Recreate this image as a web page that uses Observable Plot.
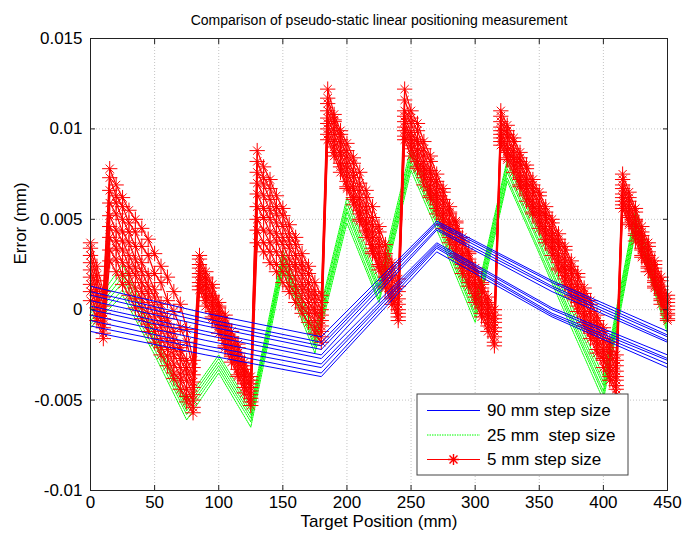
<!DOCTYPE html>
<html><head><meta charset="utf-8">
<script src="https://cdn.jsdelivr.net/npm/d3@7"></script>
<script src="https://cdn.jsdelivr.net/npm/@observablehq/plot@0.6"></script>
<style>
body{margin:0;background:#fff;}
#chart{position:relative;width:683px;height:541px;}
</style></head><body><div id="chart"></div>
<script>
const title = "Comparison of pseudo-static linear positioning measurement";
const xLabel = "Target Position (mm)";
const yLabel = "Error (mm)";
const xTicks = [0, 50, 100, 150, 200, 250, 300, 350, 400, 450];
const yTicks = [-0.01, -0.005, 0, 0.005, 0.01, 0.015];
const yTickLabels = ["-0.01", "-0.005", "0", "0.005", "0.01", "0.015"];
const seriesNames = ["90 mm step size", "25 mm  step size", "5 mm step size"];

// 90 mm step size runs
const blueX = [0, 90, 180, 270, 360, 450];
const blueRuns = [
  [0.0013, -0.0002, -0.0015, 0.0049, 0.0016, -0.0012],
  [0.0010, -0.0005, -0.0018, 0.0048, 0.0015, -0.0014],
  [0.0008, -0.0007, -0.0020, 0.0047, 0.0013, -0.0015],
  [0.0005, -0.0009, -0.0022, 0.0045, 0.0012, -0.0017],
  [0.0002, -0.0012, -0.0025, 0.0044, 0.0010, -0.0018],
  [0.0000, -0.0014, -0.0027, 0.0037, 0.0001, -0.0025],
  [-0.0003, -0.0017, -0.0030, 0.0036, 0.0000, -0.0027],
  [-0.0006, -0.0020, -0.0032, 0.0035, -0.0002, -0.0028],
  [-0.0009, -0.0022, -0.0035, 0.0034, -0.0003, -0.0030],
  [-0.0012, -0.0025, -0.0037, 0.0032, -0.0004, -0.0032]
];

// 25 mm step size runs
const greenX = [0, 25, 50, 75, 100, 125, 150, 175, 200, 225, 250, 275, 300, 325, 350, 375, 400, 425, 450];
const greenRuns = [
  [0.0000, 0.0025, -0.0012, -0.0050, -0.0025, -0.0054, 0.0033, -0.0012, 0.0062, 0.0016, 0.0090, 0.0048, 0.0005, 0.0083, 0.0043, 0.0003, -0.0037, 0.0055, -0.0003],
  [-0.0002, 0.0021, -0.0015, -0.0052, -0.0027, -0.0056, 0.0030, -0.0014, 0.0059, 0.0013, 0.0087, 0.0045, 0.0003, 0.0081, 0.0041, 0.0000, -0.0040, 0.0053, -0.0005],
  [-0.0004, 0.0018, -0.0017, -0.0054, -0.0029, -0.0058, 0.0028, -0.0017, 0.0056, 0.0011, 0.0085, 0.0043, 0.0001, 0.0078, 0.0038, -0.0003, -0.0042, 0.0050, -0.0007],
  [-0.0006, 0.0015, -0.0019, -0.0056, -0.0031, -0.0060, 0.0026, -0.0019, 0.0054, 0.0009, 0.0082, 0.0041, -0.0002, 0.0076, 0.0036, -0.0005, -0.0045, 0.0048, -0.0009],
  [-0.0008, 0.0011, -0.0022, -0.0058, -0.0033, -0.0062, 0.0024, -0.0021, 0.0051, 0.0006, 0.0080, 0.0039, -0.0004, 0.0073, 0.0033, -0.0007, -0.0047, 0.0045, -0.0011],
  [-0.0010, 0.0008, -0.0025, -0.0061, -0.0035, -0.0065, 0.0021, -0.0024, 0.0048, 0.0004, 0.0077, 0.0036, -0.0007, 0.0071, 0.0031, -0.0010, -0.0050, 0.0043, -0.0013]
];

// 5 mm step size runs
const redX = [0, 5, 10, 15, 20, 25, 30, 35, 40, 45, 50, 55, 60, 65, 70, 75, 80, 85, 90, 95,
  100, 105, 110, 115, 120, 125, 130, 135, 140, 145, 150, 155, 160, 165, 170, 175, 180, 185, 190, 195,
  200, 205, 210, 215, 220, 225, 230, 235, 240, 245, 250, 255, 260, 265, 270, 275, 280, 285, 290, 295,
  300, 305, 310, 315, 320, 325, 330, 335, 340, 345, 350, 355, 360, 365, 370, 375, 380, 385, 390, 395,
  400, 405, 410, 415, 420, 425, 430, 435, 440, 445, 450];
const redRuns = [
  [0.0037, 0.0024, 0.0010,
   0.0078, 0.0069, 0.0062, 0.0055, 0.0050, 0.0045, 0.0039, 0.0031, 0.0024, 0.0018, 0.0010, 0.0003, -0.0011, -0.0028,
   0.0030, 0.0021, 0.0014, 0.0004, -0.0003, -0.0012, -0.0019, -0.0029, -0.0037,
   0.0088, 0.0079, 0.0072, 0.0063, 0.0056, 0.0047, 0.0040, 0.0031, 0.0024, 0.0015, 0.0008,
   0.0122, 0.0108, 0.0099, 0.0092, 0.0084, 0.0076, 0.0066, 0.0057, 0.0046, 0.0036, 0.0026, 0.0017,
   0.0122, 0.0110, 0.0103, 0.0093, 0.0085, 0.0075, 0.0067, 0.0057, 0.0049, 0.0040, 0.0032, 0.0023, 0.0015, 0.0007, 0.0000,
   0.0110, 0.0102, 0.0095, 0.0087, 0.0080, 0.0072, 0.0065, 0.0057, 0.0050, 0.0042, 0.0035, 0.0027, 0.0020, 0.0012, 0.0005, -0.0003, -0.0010, -0.0018, -0.0025,
   0.0075, 0.0065, 0.0056, 0.0046, 0.0037, 0.0027, 0.0018, 0.0008],
  [0.0034, 0.0019, 0.0007,
   0.0073, 0.0063, 0.0057, 0.0048, 0.0043, 0.0035, 0.0030, 0.0020, 0.0015, 0.0005, -0.0001, -0.0010, -0.0018, -0.0032,
   0.0028, 0.0018, 0.0012, 0.0002, -0.0005, -0.0015, -0.0021, -0.0031, -0.0039,
   0.0082, 0.0073, 0.0067, 0.0057, 0.0052, 0.0042, 0.0036, 0.0026, 0.0020, 0.0010, 0.0004,
   0.0117, 0.0105, 0.0097, 0.0088, 0.0081, 0.0070, 0.0062, 0.0051, 0.0043, 0.0031, 0.0023, 0.0013,
   0.0116, 0.0106, 0.0099, 0.0089, 0.0082, 0.0071, 0.0065, 0.0054, 0.0048, 0.0038, 0.0031, 0.0021, 0.0014, 0.0004, -0.0003,
   0.0107, 0.0099, 0.0093, 0.0084, 0.0078, 0.0069, 0.0063, 0.0054, 0.0048, 0.0039, 0.0033, 0.0024, 0.0018, 0.0009, 0.0003, -0.0006, -0.0012, -0.0021, -0.0028,
   0.0072, 0.0062, 0.0054, 0.0043, 0.0035, 0.0025, 0.0016, 0.0006],
  [0.0030, 0.0016, 0.0002,
   0.0066, 0.0059, 0.0050, 0.0043, 0.0035, 0.0026, 0.0019, 0.0011, 0.0003, -0.0005, -0.0012, -0.0021, -0.0028, -0.0036,
   0.0025, 0.0017, 0.0008, 0.0001, -0.0008, -0.0016, -0.0024, -0.0033, -0.0041,
   0.0076, 0.0069, 0.0061, 0.0053, 0.0046, 0.0038, 0.0030, 0.0023, 0.0015, 0.0007, 0.0000,
   0.0114, 0.0104, 0.0094, 0.0085, 0.0076, 0.0066, 0.0057, 0.0047, 0.0038, 0.0028, 0.0019, 0.0010,
   0.0110, 0.0103, 0.0094, 0.0086, 0.0077, 0.0069, 0.0061, 0.0053, 0.0045, 0.0037, 0.0028, 0.0020, 0.0012, 0.0003, -0.0005,
   0.0104, 0.0097, 0.0089, 0.0082, 0.0074, 0.0067, 0.0059, 0.0052, 0.0044, 0.0037, 0.0029, 0.0022, 0.0014, 0.0007, -0.0001, -0.0008, -0.0016, -0.0023, -0.0031,
   0.0069, 0.0060, 0.0050, 0.0041, 0.0032, 0.0023, 0.0013, 0.0004],
  [0.0026, 0.0011, -0.0002,
   0.0059, 0.0053, 0.0043, 0.0037, 0.0028, 0.0021, 0.0013, 0.0007, -0.0002, -0.0008, -0.0017, -0.0023, -0.0032, -0.0040,
   0.0023, 0.0014, 0.0007, -0.0002, -0.0009, -0.0019, -0.0026, -0.0035, -0.0043,
   0.0070, 0.0063, 0.0055, 0.0048, 0.0040, 0.0034, 0.0025, 0.0019, 0.0011, 0.0004, -0.0003,
   0.0110, 0.0100, 0.0091, 0.0081, 0.0073, 0.0062, 0.0054, 0.0043, 0.0035, 0.0024, 0.0016, 0.0006,
   0.0107, 0.0098, 0.0092, 0.0082, 0.0075, 0.0065, 0.0059, 0.0049, 0.0043, 0.0033, 0.0026, 0.0016, 0.0010, 0.0000, -0.0007,
   0.0101, 0.0095, 0.0086, 0.0080, 0.0071, 0.0065, 0.0056, 0.0050, 0.0041, 0.0035, 0.0026, 0.0020, 0.0011, 0.0005, -0.0004, -0.0010, -0.0019, -0.0025, -0.0034,
   0.0067, 0.0057, 0.0049, 0.0039, 0.0030, 0.0021, 0.0011, 0.0002],
  [0.0022, 0.0008, -0.0005,
   0.0052, 0.0044, 0.0038, 0.0030, 0.0023, 0.0015, 0.0009, 0.0001, -0.0006, -0.0013, -0.0021, -0.0027, -0.0035, -0.0043,
   0.0020, 0.0012, 0.0004, -0.0004, -0.0012, -0.0020, -0.0029, -0.0036, -0.0045,
   0.0064, 0.0056, 0.0050, 0.0042, 0.0036, 0.0028, 0.0022, 0.0014, 0.0008, 0.0000, -0.0006,
   0.0106, 0.0097, 0.0087, 0.0078, 0.0068, 0.0059, 0.0049, 0.0040, 0.0031, 0.0021, 0.0012, 0.0003,
   0.0104, 0.0095, 0.0088, 0.0079, 0.0072, 0.0063, 0.0055, 0.0047, 0.0039, 0.0030, 0.0023, 0.0014, 0.0006, -0.0002, -0.0010,
   0.0099, 0.0091, 0.0084, 0.0076, 0.0069, 0.0061, 0.0054, 0.0046, 0.0039, 0.0031, 0.0023, 0.0016, 0.0008, 0.0001, -0.0007, -0.0014, -0.0022, -0.0029, -0.0037,
   0.0064, 0.0055, 0.0046, 0.0037, 0.0027, 0.0018, 0.0009, 0.0000],
  [0.0018, 0.0005, -0.0008,
   0.0046, 0.0038, 0.0033, 0.0024, 0.0019, 0.0010, 0.0004, -0.0004, -0.0010, -0.0018, -0.0025, -0.0032, -0.0039, -0.0047,
   0.0018, 0.0009, 0.0002, -0.0007, -0.0014, -0.0023, -0.0030, -0.0039, -0.0047,
   0.0057, 0.0051, 0.0043, 0.0038, 0.0030, 0.0024, 0.0017, 0.0011, 0.0004, -0.0002, -0.0009,
   0.0103, 0.0093, 0.0085, 0.0074, 0.0066, 0.0055, 0.0047, 0.0036, 0.0029, 0.0018, 0.0010, 0.0000,
   0.0101, 0.0094, 0.0085, 0.0078, 0.0068, 0.0061, 0.0052, 0.0045, 0.0036, 0.0028, 0.0020, 0.0012, 0.0003, -0.0004, -0.0012,
   0.0097, 0.0088, 0.0083, 0.0073, 0.0067, 0.0058, 0.0052, 0.0043, 0.0037, 0.0028, 0.0022, 0.0013, 0.0007, -0.0002, -0.0009, -0.0017, -0.0024, -0.0032, -0.0039,
   0.0062, 0.0052, 0.0045, 0.0034, 0.0026, 0.0016, 0.0008, -0.0002],
  [0.0014, 0.0001, -0.0010,
   0.0040, 0.0034, 0.0026, 0.0020, 0.0012, 0.0006, -0.0002, -0.0008, -0.0016, -0.0022, -0.0030, -0.0036, -0.0044, -0.0050,
   0.0015, 0.0007, -0.0001, -0.0009, -0.0017, -0.0025, -0.0033, -0.0041, -0.0049,
   0.0050, 0.0044, 0.0037, 0.0032, 0.0025, 0.0019, 0.0013, 0.0006, 0.0001, -0.0006, -0.0012,
   0.0100, 0.0090, 0.0081, 0.0071, 0.0062, 0.0053, 0.0044, 0.0034, 0.0025, 0.0016, 0.0007, -0.0002,
   0.0099, 0.0091, 0.0082, 0.0075, 0.0066, 0.0058, 0.0050, 0.0042, 0.0034, 0.0025, 0.0018, 0.0009, 0.0001, -0.0007, -0.0015,
   0.0095, 0.0087, 0.0080, 0.0072, 0.0064, 0.0057, 0.0049, 0.0042, 0.0034, 0.0026, 0.0019, 0.0011, 0.0004, -0.0004, -0.0012, -0.0019, -0.0027, -0.0034, -0.0042,
   0.0060, 0.0051, 0.0042, 0.0033, 0.0024, 0.0015, 0.0006, -0.0003],
  [0.0010, -0.0003, -0.0013,
   0.0033, 0.0028, 0.0019, 0.0015, 0.0006, 0.0001, -0.0008, -0.0012, -0.0021, -0.0026, -0.0035, -0.0039, -0.0048, -0.0054,
   0.0013, 0.0005, -0.0004, -0.0010, -0.0020, -0.0026, -0.0036, -0.0043, -0.0051,
   0.0044, 0.0037, 0.0032, 0.0025, 0.0021, 0.0013, 0.0009, 0.0001, -0.0002, -0.0010, -0.0015,
   0.0097, 0.0087, 0.0079, 0.0068, 0.0061, 0.0050, 0.0043, 0.0032, 0.0024, 0.0013, 0.0006, -0.0004,
   0.0096, 0.0089, 0.0079, 0.0073, 0.0063, 0.0056, 0.0047, 0.0040, 0.0031, 0.0023, 0.0015, 0.0007, -0.0002, -0.0009, -0.0018,
   0.0093, 0.0084, 0.0079, 0.0069, 0.0063, 0.0054, 0.0048, 0.0039, 0.0033, 0.0023, 0.0017, 0.0008, 0.0002, -0.0007, -0.0013, -0.0022, -0.0028, -0.0037, -0.0044,
   0.0058, 0.0048, 0.0041, 0.0030, 0.0023, 0.0013, 0.0005, -0.0005],
  [0.0005, -0.0006, -0.0016,
   0.0027, 0.0021, 0.0014, 0.0008, 0.0001, -0.0005, -0.0012, -0.0018, -0.0025, -0.0031, -0.0038, -0.0044, -0.0051, -0.0057,
   0.0011, 0.0002, -0.0005, -0.0013, -0.0021, -0.0029, -0.0037, -0.0046, -0.0053,
   0.0037, 0.0032, 0.0026, 0.0021, 0.0015, 0.0010, 0.0004, -0.0002, -0.0007, -0.0013, -0.0018,
   0.0094, 0.0085, 0.0076, 0.0067, 0.0058, 0.0049, 0.0040, 0.0031, 0.0022, 0.0012, 0.0003, -0.0006,
   0.0094, 0.0085, 0.0078, 0.0069, 0.0062, 0.0053, 0.0045, 0.0037, 0.0029, 0.0020, 0.0013, 0.0004, -0.0004, -0.0012, -0.0020,
   0.0091, 0.0083, 0.0076, 0.0068, 0.0060, 0.0053, 0.0045, 0.0037, 0.0030, 0.0022, 0.0014, 0.0007, -0.0001, -0.0009, -0.0016, -0.0024, -0.0032, -0.0039, -0.0047,
   0.0056, 0.0047, 0.0038, 0.0029, 0.0021, 0.0012, 0.0003, -0.0006]
];

const colors = ["#0000ff", "#00ff00", "#ff0000"];

function toRows(xs, runs, tag) {
  const out = [];
  runs.forEach((run, i) => run.forEach((v, j) => {
    if (xs[j] !== undefined) out.push({x: xs[j], y: v, run: tag + i});
  }));
  return out;
}
const blueRows = toRows(blueX, blueRuns, "b");
const greenRows = toRows(greenX, greenRuns, "g");
const redRows = toRows(redX, redRuns, "r");

const font = "'Liberation Sans', Arial, Helvetica, sans-serif";

const chart = Plot.plot({
  width: 683,
  height: 541,
  marginLeft: 90,
  marginRight: 16,
  marginTop: 38,
  marginBottom: 51,
  style: {fontFamily: font, background: "#fff", color: "#000", overflow: "visible"},
  x: {domain: [0, 450], label: null},
  y: {domain: [-0.01, 0.015], label: null},
  marks: [
    Plot.gridX(xTicks, {stroke: "#c4c4c4", strokeOpacity: 1, strokeDasharray: "1,2"}),
    Plot.gridY(yTicks, {stroke: "#c4c4c4", strokeOpacity: 1, strokeDasharray: "1,2"}),
    Plot.line(greenRows, {x: "x", y: "y", z: "run", stroke: colors[1], strokeWidth: 1, strokeDasharray: "1.5,1"}),
    Plot.line(redRows, {x: "x", y: "y", z: "run", stroke: colors[2], strokeWidth: 1.2}),
    Plot.dot(redRows, {x: "x", y: "y", symbol: "plus", r: 5, stroke: colors[2], strokeWidth: 1}),
    Plot.dot(redRows, {x: "x", y: "y", symbol: "times", r: 3.8, stroke: colors[2], strokeWidth: 1}),
    Plot.line(blueRows, {x: "x", y: "y", z: "run", stroke: colors[0], strokeWidth: 1}),
    Plot.frame({stroke: "#222", strokeWidth: 1}),
    Plot.axisX(xTicks, {anchor: "bottom", tickSize: -5, tickPadding: 10, fontSize: 17, label: null, stroke: "#222"}),
    Plot.axisX(xTicks, {anchor: "top", tickSize: -5, tickFormat: () => "", label: null, stroke: "#222"}),
    Plot.axisY(yTicks, {anchor: "left", tickSize: -5, tickPadding: 13, fontSize: 17, label: null, stroke: "#222",
      tickFormat: d => yTickLabels[yTicks.indexOf(d)]}),
    Plot.axisY(yTicks, {anchor: "right", tickSize: -5, tickFormat: () => "", label: null, stroke: "#222"}),
    Plot.text([title], {frameAnchor: "top", dy: -23, fontSize: 14, fill: "#000"}),
    Plot.text([xLabel], {frameAnchor: "bottom", dy: 36, fontSize: 17, fill: "#000"}),
    Plot.text([yLabel], {frameAnchor: "left", dx: -70, rotate: -90, fontSize: 17, fill: "#000"})
  ]
});

document.getElementById("chart").appendChild(chart);

// Legend box (inside the axes, lower right)
const svg = d3.select(chart);
const lg = svg.append("g").attr("font-family", font).attr("font-size", 17).attr("text-anchor", "start");
const box = {x: 417, y: 394, w: 211, h: 81};
lg.append("rect").attr("x", box.x).attr("y", box.y).attr("width", box.w).attr("height", box.h)
  .attr("fill", "#fff").attr("stroke", "#444").attr("stroke-width", 1);
const rowY = [410.5, 435, 459.5];
seriesNames.forEach((name, i) => {
  const line = lg.append("line").attr("x1", 427).attr("x2", 480).attr("y1", rowY[i]).attr("y2", rowY[i])
    .attr("stroke", colors[i]).attr("stroke-width", i === 2 ? 1.2 : 1);
  if (i === 1) line.attr("stroke-dasharray", "1.5,1");
  if (i === 2) {
    const cx = 453.5, cy = rowY[i];
    lg.append("path").attr("d", `M${cx-5.5},${cy}H${cx+5.5}M${cx},${cy-5.5}V${cy+5.5}M${cx-4},${cy-4}L${cx+4},${cy+4}M${cx-4},${cy+4}L${cx+4},${cy-4}`)
      .attr("stroke", colors[2]).attr("stroke-width", 1.4).attr("fill", "none");
  }
  lg.append("text").attr("x", 487).attr("y", rowY[i]).attr("dy", "0.35em").attr("text-anchor", "start")
    .attr("fill", "#000").text(name);
});
</script>
</body></html>
